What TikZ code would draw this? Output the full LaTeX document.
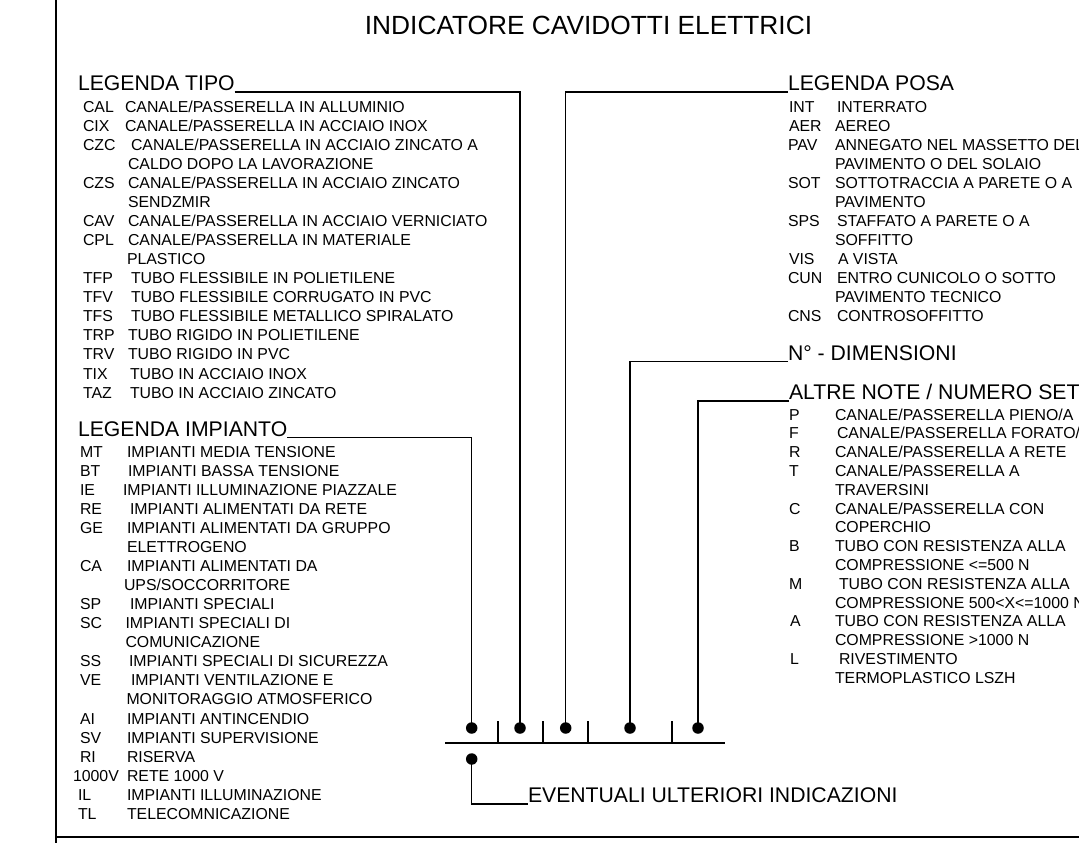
\documentclass[tikz,border=0pt]{standalone}
\usepackage{fontspec}
\setmainfont{Liberation Sans}
\tikzset{
  item/.style={anchor=base west, inner sep=0pt, outer sep=0pt, font=\fontsize{15.85}{15.85}\selectfont},
  head/.style={anchor=base west, inner sep=0pt, outer sep=0pt, font=\fontsize{21.2}{21.2}\selectfont},
  dotnode/.style={circle, fill=black, draw=none, minimum size=11.5pt, inner sep=0pt},
  conn/.style={line width=1.2pt, black},
  frame/.style={line width=1.5pt, black}
}
\newcommand{\lrow}[6]{\node[item] (#1a) at (#2,#4) {#5}; \node[item] (#1b) at (#3,#4) {#6};}
\newcommand{\lcont}[4]{\node[item] (#1) at (#2,#3) {#4};}
\begin{document}
\begin{tikzpicture}[x=1pt,y=-1pt]
\useasboundingbox (0,0) rectangle (1079,843);
% frame
\draw[frame] (56,0) -- (56,843);
\draw[frame] (56,837) -- (1079,837);
% title
\node[anchor=base, inner sep=0pt, font=\fontsize{26.3}{26.3}\selectfont] (title) at (588.5,34.4) {INDICATORE CAVIDOTTI ELETTRICI};
% headings
\node[head] (tipo) at (78,90.5) {LEGENDA TIPO};
\node[head] (imp) at (78,436) {LEGENDA IMPIANTO};
\node[head] (posa) at (788,90.5) {LEGENDA POSA};
\node[head] (dim) at (788,360) {N° - DIMENSIONI};
\node[head] (note) at (789,399.5) {ALTRE NOTE / NUMERO SET};
\node[head] (ev) at (528,802.5) {EVENTUALI ULTERIORI INDICAZIONI};
% dots
\node[dotnode] (d1) at (471.7,728) {};
\node[dotnode] (d2) at (520,728) {};
\node[dotnode] (d3) at (565.7,728) {};
\node[dotnode] (d4) at (630,728) {};
\node[dotnode] (d5) at (698,728) {};
\node[dotnode] (d0) at (471.7,759) {};
% base line and ticks
\coordinate (bl) at (445,743);
\coordinate (br) at (725,743);
\draw[conn] (bl) -- (br);
\foreach \tx in {498,543,588,672} \draw[conn] (\tx,721) -- (\tx,743);
% connectors
\draw[conn] ([yshift=-1.5pt]tipo.base east) -| (d2.center);
\draw[conn] ([yshift=-1.5pt]imp.base east) -| (d1.center);
\draw[conn] ([yshift=-1.5pt]posa.base west) -| (d3.center);
\draw[conn] ([yshift=-1.5pt]dim.base west) -| (d4.center);
\draw[conn] ([yshift=-1.5pt]note.base west) -| (d5.center);
\draw[conn] (d0.center) |- ([yshift=-1.5pt]ev.base west);
% LEGENDA TIPO
\lrow{t1}{83}{125}{112}{CAL}{CANALE/PASSERELLA IN ALLUMINIO}
\lrow{t2}{83}{125}{131.1}{CIX}{CANALE/PASSERELLA IN ACCIAIO INOX}
\lrow{t3}{83}{131}{150.1}{CZC}{CANALE/PASSERELLA IN ACCIAIO ZINCATO A}
\lcont{t4}{128}{169.2}{CALDO DOPO LA LAVORAZIONE}
\lrow{t5}{83}{128}{188.3}{CZS}{CANALE/PASSERELLA IN ACCIAIO ZINCATO}
\lcont{t6}{128}{207.4}{SENDZMIR}
\lrow{t7}{83}{128}{226.4}{CAV}{CANALE/PASSERELLA IN ACCIAIO VERNICIATO}
\lrow{t8}{83}{128}{245.5}{CPL}{CANALE/PASSERELLA IN MATERIALE}
\lcont{t9}{127}{264.6}{PLASTICO}
\lrow{t10}{83}{131}{283.6}{TFP}{TUBO FLESSIBILE IN POLIETILENE}
\lrow{t11}{83}{131}{302.7}{TFV}{TUBO FLESSIBILE CORRUGATO IN PVC}
\lrow{t12}{83}{131}{321.8}{TFS}{TUBO FLESSIBILE METALLICO SPIRALATO}
\lrow{t13}{83}{128}{340.8}{TRP}{TUBO RIGIDO IN POLIETILENE}
\lrow{t14}{83}{128}{359.9}{TRV}{TUBO RIGIDO IN PVC}
\lrow{t15}{83}{130}{379}{TIX}{TUBO IN ACCIAIO INOX}
\lrow{t16}{83}{130}{398.1}{TAZ}{TUBO IN ACCIAIO ZINCATO}
% LEGENDA IMPIANTO
\lrow{i1}{80}{127}{457}{MT}{IMPIANTI MEDIA TENSIONE}
\lrow{i2}{80}{128}{476.1}{BT}{IMPIANTI BASSA TENSIONE}
\lrow{i3}{80}{123}{495.1}{IE}{IMPIANTI ILLUMINAZIONE PIAZZALE}
\lrow{i4}{80}{130}{514.2}{RE}{IMPIANTI ALIMENTATI DA RETE}
\lrow{i5}{80}{127}{533.3}{GE}{IMPIANTI ALIMENTATI DA GRUPPO}
\lcont{i6}{127}{552.4}{ELETTROGENO}
\lrow{i7}{80}{127}{571.4}{CA}{IMPIANTI ALIMENTATI DA}
\lcont{i8}{124}{590.5}{UPS/SOCCORRITORE}
\lrow{i9}{80}{130}{609.6}{SP}{IMPIANTI SPECIALI}
\lrow{i10}{80}{125.5}{628.6}{SC}{IMPIANTI SPECIALI DI}
\lcont{i11}{125.5}{647.7}{COMUNICAZIONE}
\lrow{i12}{80}{129}{666.8}{SS}{IMPIANTI SPECIALI DI SICUREZZA}
\lrow{i13}{80}{131}{685.8}{VE}{IMPIANTI VENTILAZIONE E}
\lcont{i14}{126.5}{704.9}{MONITORAGGIO ATMOSFERICO}
\lrow{i15}{80}{127}{724}{AI}{IMPIANTI ANTINCENDIO}
\lrow{i16}{80}{127}{743.1}{SV}{IMPIANTI SUPERVISIONE}
\lrow{i17}{80}{127}{762.1}{RI}{RISERVA}
\lrow{i18}{73}{127}{781.2}{1000V}{RETE 1000 V}
\lrow{i19}{78}{127}{800.3}{IL}{IMPIANTI ILLUMINAZIONE}
\lrow{i20}{78}{127}{819.3}{TL}{TELECOMNICAZIONE}
% LEGENDA POSA
\lrow{p1}{789}{837}{112}{INT}{INTERRATO}
\lrow{p2}{789}{835}{131.1}{AER}{AEREO}
\lrow{p3}{788}{835}{150.1}{PAV}{ANNEGATO NEL MASSETTO DEL}
\lcont{p4}{835}{169.2}{PAVIMENTO O DEL SOLAIO}
\lrow{p5}{788}{835}{188.3}{SOT}{SOTTOTRACCIA A PARETE O A}
\lcont{p6}{835}{207.4}{PAVIMENTO}
\lrow{p7}{788}{837}{226.4}{SPS}{STAFFATO A PARETE O A}
\lcont{p8}{835}{245.5}{SOFFITTO}
\lrow{p9}{789}{838}{264.6}{VIS}{A VISTA}
\lrow{p10}{788}{837}{283.6}{CUN}{ENTRO CUNICOLO O SOTTO}
\lcont{p11}{835}{302.7}{PAVIMENTO TECNICO}
\lrow{p12}{788}{837}{321.8}{CNS}{CONTROSOFFITTO}
% ALTRE NOTE
\lrow{n1}{789}{835}{420}{P}{CANALE/PASSERELLA PIENO/A}
\lrow{n2}{789}{837}{438.8}{F}{CANALE/PASSERELLA FORATO/A}
\lrow{n3}{789}{835}{457.6}{R}{CANALE/PASSERELLA A RETE}
\lrow{n4}{789}{835}{476.4}{T}{CANALE/PASSERELLA A}
\lcont{n5}{835}{495.2}{TRAVERSINI}
\lrow{n6}{789}{835}{514}{C}{CANALE/PASSERELLA CON}
\lcont{n7}{835}{532.8}{COPERCHIO}
\lrow{n8}{789}{835}{551.6}{B}{TUBO CON RESISTENZA ALLA}
\lcont{n9}{835}{570.4}{COMPRESSIONE <=500 N}
\lrow{n10}{789}{839}{589.2}{M}{TUBO CON RESISTENZA ALLA}
\lcont{n11}{835}{608}{COMPRESSIONE 500<X<=1000 N}
\lrow{n12}{790}{835}{626.8}{A}{TUBO CON RESISTENZA ALLA}
\lcont{n13}{835}{645.6}{COMPRESSIONE >1000 N}
\lrow{n14}{790}{839}{664.4}{L}{RIVESTIMENTO}
\lcont{n15}{835}{683.2}{TERMOPLASTICO LSZH}
\end{tikzpicture}
\end{document}
